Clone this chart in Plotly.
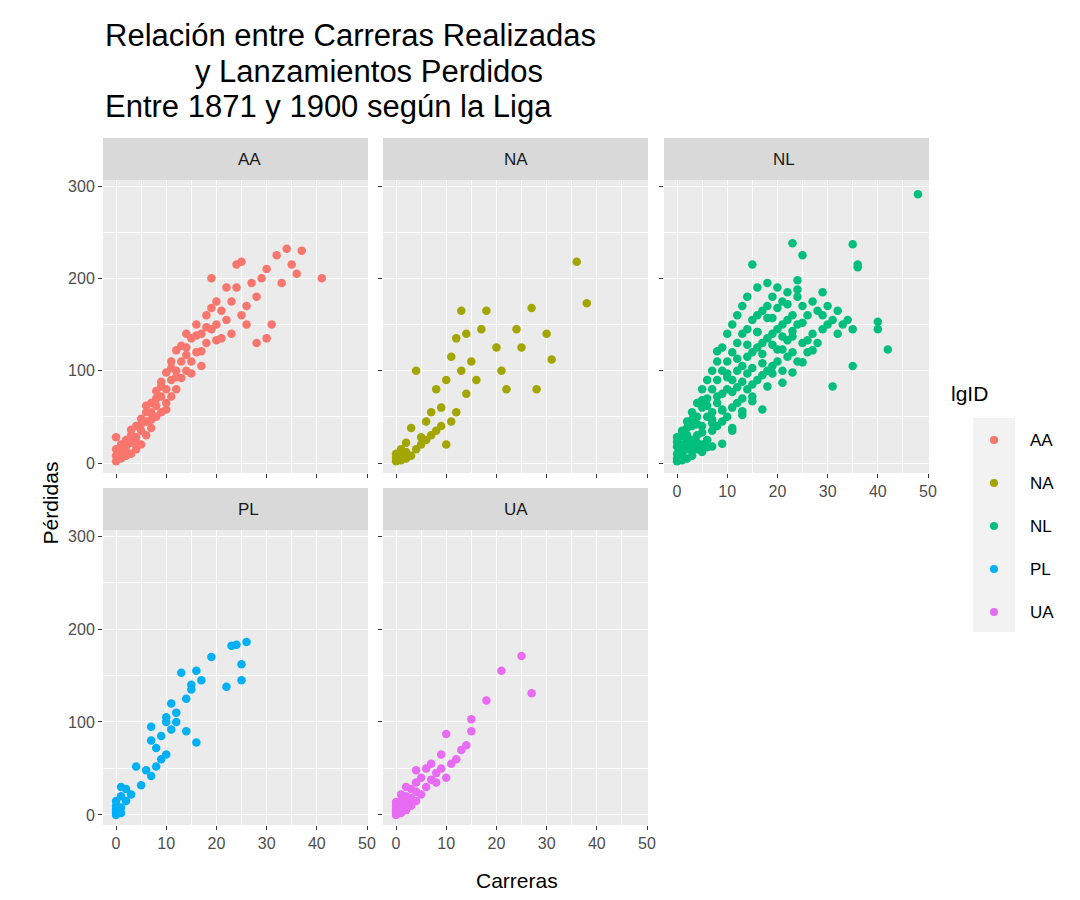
import plotly.graph_objects as go
from plotly.subplots import make_subplots

# Carreras (x) and Pérdidas (y) per league
aa_x = [0,0,0,0,1,1,1,2,2,2,3,3,3,4,4,4,5,5,5,6,6,6,7,7,7,8,8,8,9,9,9,10,10,10,11,11,11,12,12,12,13,13,14,14,14,15,15,16,16,17,17,18,18,19,19,20,20,21,21,22,22,23,23,24,24,25,25,26,26,27,28,28,29,30,30,31,32,33,34,35,36,37,41,
        1,2,3,4,5,6,7,8,9,10,11,12,13,14,15,16,17,18,19,20]
aa_y = [2,8,15,28,5,12,20,8,18,25,10,22,30,15,28,40,20,35,48,30,45,55,38,55,65,50,62,78,55,72,88,65,80,98,72,90,110,80,100,122,92,110,100,125,140,110,135,120,150,105,140,130,160,145,200,150,175,135,165,155,190,140,175,190,215,160,218,170,150,195,130,180,200,210,135,150,225,195,232,215,205,230,200,
        16,12,36,23,42,62,47,70,83,58,103,93,127,117,97,138,121,147,168,133]
na_x = [0,0,0,1,1,1,2,2,2,3,3,4,4,5,5,6,6,7,7,8,8,9,9,10,10,11,11,12,12,13,13,14,14,15,16,17,18,20,21,22,24,25,27,28,30,31,36,38]
na_y = [2,6,10,3,8,15,5,12,22,8,38,15,100,20,28,25,45,55,30,35,80,40,60,90,20,115,45,55,135,165,100,140,75,110,90,145,165,125,100,80,145,125,168,80,140,112,218,173]
nl_x = [0,0,0,0,0,1,1,1,1,2,2,2,2,3,3,3,3,4,4,4,4,5,5,5,5,6,6,6,6,7,7,7,7,8,8,8,8,9,9,9,9,10,10,10,10,11,11,11,11,12,12,12,12,13,13,13,13,14,14,14,14,15,15,15,15,16,16,16,16,17,17,17,18,18,18,18,19,19,19,20,20,20,21,21,21,22,22,22,23,23,23,24,24,24,25,25,25,26,26,27,27,28,28,29,29,30,30,31,31,32,32,33,34,35,35,35,36,36,40,40,42,48,
        1,2,3,4,5,6,7,8,9,10,11,12,13,14,15,16,17,18,19,20,21,22,23,24,25,26,
        2,3,4,5,6,7,8,9,10,11,12,13,14,15,16,17,18,19,20,21,22,23,24,
        0,1,3,5,7,9,11,13,15,17,19,21,23,25,27,29]
nl_y = [2,5,10,18,28,3,10,20,35,5,15,30,45,8,25,40,55,15,30,50,65,20,40,60,80,25,50,70,90,35,55,80,100,40,65,90,110,45,75,100,125,50,80,110,140,60,90,120,150,65,100,130,160,70,105,140,170,80,115,145,180,85,120,155,215,90,125,160,190,95,130,165,100,135,170,195,105,140,180,110,145,190,100,150,175,115,155,185,120,160,238,110,150,180,130,170,225,120,160,140,175,130,165,145,160,150,170,83,155,140,165,150,155,237,105,145,215,212,153,145,123,291,
        14,23,18,42,33,62,47,72,58,93,77,113,88,128,103,142,118,157,128,168,137,172,143,188,152,133,
        38,47,22,68,17,43,121,57,97,35,82,56,97,67,142,108,83,157,123,87,133,98,198,
        23,29,13,12,18,21,38,52,72,58,97,123,137,109,122,185]
pl_x = [0,0,0,0,0,1,1,1,1,2,2,3,4,5,6,7,7,7,8,8,9,9,10,10,10,11,11,12,12,13,14,14,15,15,16,16,17,19,22,23,24,25,25,26]
pl_y = [0,3,6,10,15,2,8,20,30,15,28,22,52,32,48,42,80,95,52,72,60,85,65,100,105,92,120,100,110,153,90,125,135,140,78,155,145,170,138,182,183,145,162,186]
ua_x = [0,0,0,0,0,1,1,1,1,2,2,2,2,3,3,3,4,4,4,4,5,5,6,6,7,7,8,8,9,9,10,10,11,12,13,14,15,15,18,21,25,27]
ua_y = [0,3,6,10,14,2,8,15,22,5,12,20,30,10,18,28,15,25,35,48,22,40,30,50,38,55,45,35,50,65,40,87,55,60,70,75,90,103,123,155,171,131]

leagues = ["AA", "NA", "NL", "PL", "UA"]
colors = ["#F8766D", "#A3A500", "#00BF7D", "#00B0F6", "#E76BF3"]
series = [(aa_x, aa_y), (na_x, na_y), (nl_x, nl_y), (pl_x, pl_y), (ua_x, ua_y)]
cells = [(1, 1), (1, 2), (1, 3), (2, 1), (2, 2)]

fig = make_subplots(rows=2, cols=3)
for lg, col, (xs, ys), (r, c) in zip(leagues, colors, series, cells):
    fig.add_trace(go.Scatter(x=xs, y=ys, mode="markers", name=lg, showlegend=False,
                             marker=dict(color=col, size=8.5)), row=r, col=c)

W, H = 1080, 900
xdom = [(95, 360), (375, 640), (656, 921)]
ydom = [(172, 465), (522, 817)]
font = "Liberation Sans, Arial"

for r in (1, 2):
    for c in (1, 2, 3):
        idx = (r - 1) * 3 + c
        sx = "" if idx == 1 else str(idx)
        x0, x1 = xdom[c - 1]
        y0, y1 = ydom[r - 1]
        if (r, c) == (2, 3):
            fig.layout["xaxis" + sx].update(visible=False, domain=[x0 / W, x1 / W], automargin=False)
            fig.layout["yaxis" + sx].update(visible=False, domain=[1 - y1 / H, 1 - y0 / H], automargin=False)
            continue
        show_x = r == 2 or c == 3
        fig.layout["xaxis" + sx].update(
            domain=[x0 / W, x1 / W], range=[-2.6, 50.2], tickvals=[0, 10, 20, 30, 40, 50],
            showticklabels=show_x, ticks="outside", ticklen=4, tickcolor="#333333", automargin=False,
            gridcolor="white", gridwidth=1.3, zeroline=False, showline=False,
            minor=dict(tickvals=[5, 15, 25, 35, 45], showgrid=True, gridcolor="white", gridwidth=0.6),
            tickfont=dict(size=16, color="#4d4d4d", family=font))
        fig.layout["yaxis" + sx].update(
            domain=[1 - y1 / H, 1 - y0 / H], range=[-10.8, 306.5], tickvals=[0, 100, 200, 300],
            showticklabels=(c == 1), ticks="outside", ticklen=4, tickcolor="#333333", automargin=False,
            gridcolor="white", gridwidth=1.3, zeroline=False, showline=False,
            minor=dict(tickvals=[50, 150, 250], showgrid=True, gridcolor="white", gridwidth=0.6),
            tickfont=dict(size=16, color="#4d4d4d", family=font))

shapes, annotations = [], []
for lg, (r, c) in zip(leagues, cells):
    x0, x1 = xdom[c - 1]
    y0 = ydom[r - 1][0]
    shapes.append(dict(type="rect", xref="paper", yref="paper", x0=x0 / W, x1=x1 / W,
                       y0=1 - y0 / H, y1=1 - (y0 - 42) / H, fillcolor="#d9d9d9", line_width=0))
    annotations.append(dict(text=lg, xref="paper", yref="paper", x=(x0 + x1) / 2 / W,
                            y=1 - (y0 - 21) / H, yanchor="middle", showarrow=False,
                            font=dict(size=17, color="#1a1a1a", family=font)))

# legend drawn by hand, ggplot style
shapes.append(dict(type="rect", xref="paper", yref="paper", x0=965 / W, x1=1007 / W,
                   y0=1 - 624 / H, y1=1 - 410 / H, fillcolor="#f2f2f2", line_width=0))
annotations.append(dict(text="lgID", xref="paper", yref="paper", x=941 / W, y=1 - 385 / H,
                        xanchor="left", yanchor="middle", showarrow=False,
                        font=dict(size=21, color="black", family=font)))
for i, (lg, col) in enumerate(zip(leagues, colors)):
    yc = 432 + i * 43
    shapes.append(dict(type="circle", xref="paper", yref="paper", x0=982 / W, x1=990 / W,
                       y0=1 - (yc + 4) / H, y1=1 - (yc - 4) / H, fillcolor=col, line_width=0))
    annotations.append(dict(text=lg, xref="paper", yref="paper", x=1020 / W, y=1 - yc / H,
                            xanchor="left", yanchor="middle", showarrow=False,
                            font=dict(size=17, color="black", family=font)))

title_lines = [("Relación entre Carreras Realizadas", 95, 28),
               ("y Lanzamientos Perdidos", 185, 63),
               ("Entre 1871 y 1900 según la Liga", 95, 98)]
for txt, px_, py in title_lines:
    annotations.append(dict(text=txt, xref="paper", yref="paper", x=px_ / W, y=1 - py / H,
                            xanchor="left", yanchor="middle", showarrow=False,
                            font=dict(size=31, color="black", family=font)))

annotations.append(dict(text="Carreras", xref="paper", yref="paper", x=509 / W, y=1 - 872 / H,
                        yanchor="middle", showarrow=False, font=dict(size=21, color="black", family=font)))
annotations.append(dict(text="Pérdidas", xref="paper", yref="paper", x=28 / W, y=1 - 495 / H,
                        yanchor="middle", textangle=-90, showarrow=False,
                        font=dict(size=21, color="black", family=font)))

fig.update_layout(width=W, height=H, margin=dict(l=0, r=0, t=0, b=0),
                  paper_bgcolor="white", plot_bgcolor="#ebebeb",
                  shapes=shapes, annotations=annotations, showlegend=False)
fig.write_html("out.html")
